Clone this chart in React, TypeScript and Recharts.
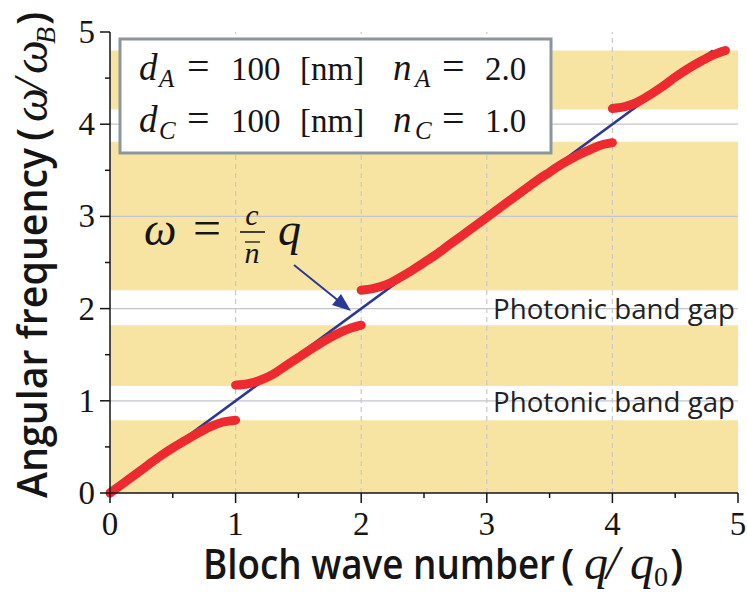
import React from "react";
import { ComposedChart, Line, XAxis, YAxis, ReferenceArea, ReferenceLine } from "recharts";

// allowed bands (omega / omega_B), everything between them is a gap
const bandLow = [0, 1.16, 2.2, 4.16];
const bandHigh = [0.79, 1.82, 3.81, 4.8];

// dispersion branches (q / q0, omega / omega_B)
const band1 = [
  { q: 0, w: 0 }, { q: 0.1, w: 0.1 }, { q: 0.2, w: 0.2 }, { q: 0.3, w: 0.3 },
  { q: 0.4, w: 0.4 }, { q: 0.5, w: 0.49 }, { q: 0.6, w: 0.57 }, { q: 0.7, w: 0.65 },
  { q: 0.8, w: 0.72 }, { q: 0.9, w: 0.77 }, { q: 1.0, w: 0.79 },
];
const band2 = [
  { q: 1.0, w: 1.17 }, { q: 1.1, w: 1.185 }, { q: 1.2, w: 1.225 }, { q: 1.3, w: 1.29 },
  { q: 1.4, w: 1.38 }, { q: 1.5, w: 1.47 }, { q: 1.6, w: 1.56 }, { q: 1.7, w: 1.645 },
  { q: 1.8, w: 1.72 }, { q: 1.9, w: 1.78 }, { q: 2.0, w: 1.82 },
];
const band3 = [
  { q: 2.0, w: 2.2 }, { q: 2.1, w: 2.22 }, { q: 2.2, w: 2.26 }, { q: 2.3, w: 2.33 },
  { q: 2.4, w: 2.41 }, { q: 2.5, w: 2.5 }, { q: 2.6, w: 2.59 }, { q: 2.7, w: 2.69 },
  { q: 2.8, w: 2.79 }, { q: 2.9, w: 2.89 }, { q: 3.0, w: 2.99 }, { q: 3.1, w: 3.09 },
  { q: 3.2, w: 3.19 }, { q: 3.3, w: 3.29 }, { q: 3.4, w: 3.39 }, { q: 3.5, w: 3.48 },
  { q: 3.6, w: 3.57 }, { q: 3.7, w: 3.645 }, { q: 3.8, w: 3.71 }, { q: 3.9, w: 3.77 },
  { q: 4.0, w: 3.8 },
];
const band4 = [
  { q: 4.0, w: 4.17 }, { q: 4.1, w: 4.19 }, { q: 4.2, w: 4.24 }, { q: 4.3, w: 4.32 },
  { q: 4.4, w: 4.41 }, { q: 4.5, w: 4.51 }, { q: 4.6, w: 4.6 }, { q: 4.7, w: 4.68 },
  { q: 4.8, w: 4.75 }, { q: 4.9, w: 4.8 },
];
// light line omega = (c / n) q
const lightLine = [{ q: 0, w: 0 }, { q: 4.8, w: 4.8 }];

const axisTicks = [0, 0.5, 1, 1.5, 2, 2.5, 3, 3.5, 4, 4.5, 5];
const gridTicks = [1, 2, 3, 4];
const gapLabels = ["Photonic band gap", "Photonic band gap"];

const YELLOW = "#f7e4a2";
const RED = "#ec2a30";
const BLUE = "#2c3896";
const INK = "#151515";
const SERIF = "'Liberation Serif', 'DejaVu Serif', serif";
const SANS = "'Open Sans', 'Noto Sans', sans-serif";

const PLOT_LEFT = 110;
const PLOT_BOTTOM = 493;

const YTick = (props: any) => {
  const y = props.payload.coordinate;
  const v = props.payload.value;
  const major = Number.isInteger(v);
  return (
    <g>
      <line x1={PLOT_LEFT} x2={PLOT_LEFT - (major ? 10 : 5)} y1={y} y2={y} stroke={INK} strokeWidth={1.5} />
      {major && (
        <text x={95} y={y + 11} textAnchor="end" fontFamily={SERIF} fontSize={33} fill={INK}>
          {v}
        </text>
      )}
    </g>
  );
};

const XTick = (props: any) => {
  const x = props.payload.coordinate;
  const v = props.payload.value;
  const major = Number.isInteger(v);
  return (
    <g>
      <line x1={x} x2={x} y1={PLOT_BOTTOM} y2={PLOT_BOTTOM + (major ? 10 : 5)} stroke={INK} strokeWidth={1.5} />
      {major && (
        <text x={x} y={535} textAnchor="middle" fontFamily={SERIF} fontSize={33} fill={INK}>
          {v}
        </text>
      )}
    </g>
  );
};

const branch = (data: { q: number; w: number }[], key: string) => (
  <Line
    key={key}
    data={data}
    dataKey="w"
    type="monotone"
    stroke={RED}
    strokeWidth={9}
    strokeLinecap="round"
    dot={false}
    activeDot={false}
    isAnimationActive={false}
  />
);

// one line of the parameter box: d_X = 100 [nm]  n_X = value
const ParamRow = ({ y, sub, n }: { y: number; sub: string; n: string }) => (
  <text y={y} fontFamily={SERIF} fontSize={33} fill={INK}>
    <tspan x={139} fontStyle="italic" fontSize={37}>d</tspan>
    <tspan x={159} y={y + 7} fontStyle="italic" fontSize={25}>{sub}</tspan>
    <tspan x={187} y={y} fontSize={40}>=</tspan>
    <tspan x={231}>100</tspan>
    <tspan x={300}>[nm]</tspan>
    <tspan x={393} fontStyle="italic" fontSize={37}>n</tspan>
    <tspan x={415} y={y + 7} fontStyle="italic" fontSize={25}>{sub}</tspan>
    <tspan x={442} y={y} fontSize={40}>=</tspan>
    <tspan x={485}>{n}</tspan>
  </text>
);

export default function App() {
  return (
    <div style={{ position: "absolute", left: 0, top: 0, width: 747, height: 596, background: "#fff" }}>
      <ComposedChart width={747} height={596} margin={{ top: 32, right: 9, bottom: 0, left: 10 }}>
        <XAxis
          dataKey="q"
          type="number"
          domain={[0, 5]}
          ticks={axisTicks}
          interval={0}
          height={103}
          axisLine={{ stroke: INK, strokeWidth: 1.5 }}
          tickLine={false}
          tick={<XTick />}
          allowDuplicatedCategory={false}
        />
        <YAxis
          type="number"
          domain={[0, 5]}
          ticks={axisTicks}
          interval={0}
          width={100}
          axisLine={{ stroke: INK, strokeWidth: 1.5 }}
          tickLine={false}
          tick={<YTick />}
        />
        {bandLow.map((lo, i) => (
          <ReferenceArea key={"band" + i} x1={0} x2={5} y1={lo} y2={bandHigh[i]} fill={YELLOW} fillOpacity={1} stroke="none" />
        ))}
        {gridTicks.map((t) => (
          <ReferenceLine key={"h" + t} y={t} stroke="#c4c4cc" strokeWidth={1.2} />
        ))}
        {gridTicks.map((t) => (
          <ReferenceLine key={"v" + t} x={t} stroke="#c9c9c9" strokeWidth={1.2} strokeDasharray="5 4" />
        ))}
        <Line
          data={lightLine}
          dataKey="w"
          type="linear"
          stroke={BLUE}
          strokeWidth={2.6}
          dot={false}
          activeDot={false}
          isAnimationActive={false}
        />
        {branch(band1, "b1")}
        {branch(band2, "b2")}
        {branch(band3, "b3")}
        {branch(band4, "b4")}
      </ComposedChart>

      <svg width={747} height={596} style={{ position: "absolute", left: 0, top: 0, pointerEvents: "none" }}>
        {/* parameter box */}
        <rect x={120} y={39} width={431} height={114} fill="#fff" stroke="#8c959b" strokeWidth={3} />
        <ParamRow y={80} sub="A" n="2.0" />
        <ParamRow y={132} sub="C" n="1.0" />

        {/* light line formula and arrow */}
        <text y={245} fontFamily={SERIF} fill={INK} fontSize={46}>
          <tspan x={144} fontStyle="italic">ω</tspan>
          <tspan x={193} fontSize={50}>=</tspan>
          <tspan x={278} fontStyle="italic">q</tspan>
        </text>
        <text x={252} y={225} fontFamily={SERIF} fontStyle="italic" fontSize={30} fill={INK} textAnchor="middle">c</text>
        <line x1={240} x2={265} y1={232} y2={232} stroke={INK} strokeWidth={1.6} />
        <line x1={245} x2={260} y1={242} y2={242} stroke={INK} strokeWidth={1.3} />
        <text x={252} y={263} fontFamily={SERIF} fontStyle="italic" fontSize={30} fill={INK} textAnchor="middle">n</text>
        <line x1={294} y1={265} x2={340} y2={302} stroke={BLUE} strokeWidth={2} />
        <polygon points="351,311 332,305 341,294" fill={BLUE} />

        {/* gap labels */}
        <text x={493} y={319} fontFamily={SANS} fontSize={28} fill="#222" textLength={242} lengthAdjust="spacingAndGlyphs">
          {gapLabels[0]}
        </text>
        <text x={493} y={412} fontFamily={SANS} fontSize={28} fill="#222" textLength={242} lengthAdjust="spacingAndGlyphs">
          {gapLabels[1]}
        </text>

        {/* x axis title */}
        <text y={579} fill={INK} fontFamily={SANS} fontWeight={600} fontSize={42}>
          <tspan x={203} textLength={352} lengthAdjust="spacingAndGlyphs">Bloch wave number</tspan>
          <tspan x={561}>(</tspan>
          <tspan x={584} fontFamily={SERIF} fontWeight={400} fontStyle="italic" fontSize={48}>q</tspan>
          <tspan x={606} fontFamily={SERIF} fontWeight={400} fontStyle="italic" fontSize={48}>/</tspan>
          <tspan x={630} fontFamily={SERIF} fontWeight={400} fontStyle="italic" fontSize={48}>q</tspan>
          <tspan x={654} y={586} fontFamily={SERIF} fontWeight={400} fontSize={28}>0</tspan>
          <tspan x={670} y={579}>)</tspan>
        </text>

        {/* y axis title, reads bottom to top */}
        <g transform="translate(47,498) rotate(-90)">
          <text y={0} fill={INK} fontFamily={SANS} fontWeight={600} fontSize={42}>
            <tspan x={0} textLength={350} lengthAdjust="spacingAndGlyphs">Angular frequency</tspan>
            <tspan x={357}>(</tspan>
            <tspan x={376} fontFamily={SERIF} fontWeight={400} fontStyle="italic" fontSize={48}>ω</tspan>
            <tspan x={406} fontFamily={SERIF} fontWeight={400} fontStyle="italic" fontSize={48}>/</tspan>
            <tspan x={424} fontFamily={SERIF} fontWeight={400} fontStyle="italic" fontSize={48}>ω</tspan>
            <tspan x={454} y={8} fontFamily={SERIF} fontWeight={400} fontStyle="italic" fontSize={28}>B</tspan>
            <tspan x={473} y={0}>)</tspan>
          </text>
        </g>
      </svg>
    </div>
  );
}
